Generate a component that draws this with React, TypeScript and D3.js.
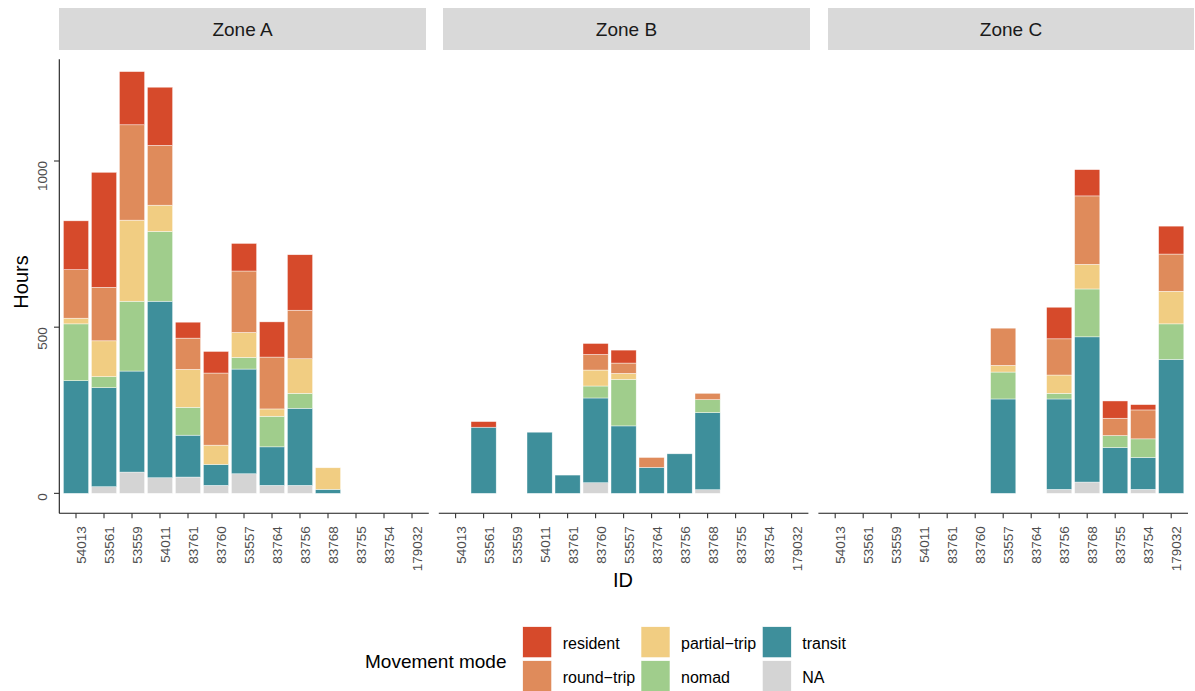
import React from "react";
import * as d3 from "d3";

const ids = ["54013", "53561", "53559", "54011", "83761", "83760", "53557", "83764", "83756", "83768", "83755", "83754", "179032"];
const zones = ["Zone A", "Zone B", "Zone C"];
// stack order, bottom to top
const modes = ["NA", "transit", "nomad", "partial-trip", "round-trip", "resident"];
const modeColors = ["#D4D4D4", "#3E8F9B", "#A0CD8C", "#F1CD82", "#DF8B5B", "#D64A2B"];

// Zone A
const aNA = [0, 20, 64, 47, 49, 24, 59, 24, 24, 0, 0, 0, 0];
const aTransit = [339, 298, 304, 531, 126, 63, 315, 116, 232, 12, 0, 0, 0];
const aNomad = [171, 33, 210, 210, 84, 0, 35, 92, 45, 0, 0, 0, 0];
const aPartial = [17, 108, 244, 79, 114, 58, 75, 22, 104, 65, 0, 0, 0];
const aRound = [146, 161, 287, 180, 94, 217, 185, 156, 146, 0, 0, 0, 0];
const aResident = [147, 346, 160, 175, 48, 65, 83, 106, 167, 0, 0, 0, 0];

// Zone B
const bNA = [0, 0, 0, 0, 0, 32, 0, 0, 0, 11, 0, 0, 0];
const bTransit = [0, 199, 0, 184, 55, 255, 203, 78, 119, 232, 0, 0, 0];
const bNomad = [0, 0, 0, 0, 0, 36, 140, 0, 0, 39, 0, 0, 0];
const bPartial = [0, 0, 0, 0, 0, 48, 18, 0, 0, 0, 0, 0, 0];
const bRound = [0, 0, 0, 0, 0, 47, 31, 30, 0, 19, 0, 0, 0];
const bResident = [0, 17, 0, 0, 0, 33, 39, 0, 0, 0, 0, 0, 0];

// Zone C
const cNA = [0, 0, 0, 0, 0, 0, 0, 0, 12, 34, 0, 12, 0];
const cTransit = [0, 0, 0, 0, 0, 0, 284, 0, 272, 437, 138, 96, 403];
const cNomad = [0, 0, 0, 0, 0, 0, 81, 0, 17, 144, 36, 56, 107];
const cPartial = [0, 0, 0, 0, 0, 0, 20, 0, 55, 74, 0, 0, 98];
const cRound = [0, 0, 0, 0, 0, 0, 112, 0, 109, 206, 52, 87, 112];
const cResident = [0, 0, 0, 0, 0, 0, 0, 0, 95, 79, 52, 16, 84];

const yTicks = [0, 500, 1000];

const zoneSeries = [
  [aNA, aTransit, aNomad, aPartial, aRound, aResident],
  [bNA, bTransit, bNomad, bPartial, bRound, bResident],
  [cNA, cTransit, cNomad, cPartial, cRound, cResident],
];

// legend layout: columns of labels
const legendCols = [
  ["resident", "round-trip"],
  ["partial-trip", "nomad"],
  ["transit", "NA"],
];

const FONT = "'Liberation Sans', Arial, Helvetica, sans-serif";

export default function App() {
  const W = 1195;
  const H = 691;
  const panelLefts = [59.2, 438.8, 818.4];
  const panelW = 369.6;
  const panelTop = 59.3;
  const panelBottom = 513.3;
  const stripBoxes = [
    [59, 426],
    [443, 810],
    [828, 1194],
  ];

  const y = d3.scaleLinear().domain([-60, 1306]).range([panelBottom, panelTop]);

  const colorOf = (m: string) => modeColors[modes.indexOf(m)];

  return (
    <svg width={W} height={H} style={{ position: "absolute", left: 0, top: 0, background: "#fff" }} fontFamily={FONT}>
      <rect x={0} y={0} width={W} height={H} fill="#fff" />
      {/* strips */}
      {zones.map((z, i) => (
        <g key={"s" + i}>
          <rect x={stripBoxes[i][0]} y={8} width={stripBoxes[i][1] - stripBoxes[i][0]} height={42} fill="#D9D9D9" />
          <text x={(stripBoxes[i][0] + stripBoxes[i][1]) / 2} y={29} textAnchor="middle" dominantBaseline="central" fontSize={19} fill="#1A1A1A">
            {z}
          </text>
        </g>
      ))}

      {/* panels */}
      {zones.map((z, zi) => {
        const x = d3.scalePoint<string>().domain(ids).range([panelLefts[zi], panelLefts[zi] + panelW]).padding(0.6);
        const step = x.step();
        const bw = step * 0.9;
        const rows = ids.map((id, k) => {
          const r: any = { id };
          modes.forEach((m, mi) => (r[m] = zoneSeries[zi][mi][k]));
          return r;
        });
        const stacked = d3.stack<any>().keys(modes)(rows);
        return (
          <g key={"p" + zi}>
            {stacked.map((layer) => (
              <g key={layer.key} fill={colorOf(layer.key)}>
                {layer.map((d, k) =>
                  d[1] - d[0] > 0 ? (
                    <rect
                      key={k}
                      x={(x(ids[k]) as number) - bw / 2}
                      y={y(d[1])}
                      width={bw}
                      height={y(d[0]) - y(d[1])}
                      stroke="#ffffff"
                      strokeOpacity={0.7}
                      strokeWidth={0.6}
                    />
                  ) : null
                )}
              </g>
            ))}
            {/* x axis */}
            <line x1={panelLefts[zi]} x2={panelLefts[zi] + panelW} y1={panelBottom} y2={panelBottom} stroke="#1a1a1a" strokeWidth={1.1} />
            {ids.map((id) => {
              const px = x(id) as number;
              return (
                <g key={id}>
                  <line x1={px} x2={px} y1={panelBottom} y2={panelBottom + 5} stroke="#333" strokeWidth={1.1} />
                  <text
                    transform={`translate(${px + 5.5},${panelBottom + 13}) rotate(-90)`}
                    textAnchor="end"
                    dominantBaseline="central"
                    fontSize={13.5}
                    fill="#4D4D4D"
                  >
                    {id}
                  </text>
                </g>
              );
            })}
          </g>
        );
      })}

      {/* y axis */}
      <line x1={59.3} x2={59.3} y1={panelTop} y2={panelBottom} stroke="#1a1a1a" strokeWidth={1.1} />
      {yTicks.map((t) => (
        <g key={t}>
          <line x1={54} x2={59.3} y1={y(t)} y2={y(t)} stroke="#333" strokeWidth={1.1} />
          <text transform={`translate(42.5,${y(t)}) rotate(-90)`} textAnchor="end" dominantBaseline="central" fontSize={13.5} fill="#4D4D4D">
            {t}
          </text>
        </g>
      ))}

      {/* axis titles */}
      <text transform={`translate(20.5,282) rotate(-90)`} textAnchor="middle" dominantBaseline="central" fontSize={20} fill="#000">
        Hours
      </text>
      <text x={623} y={580} textAnchor="middle" dominantBaseline="central" fontSize={20} fill="#000">
        ID
      </text>

      {/* legend */}
      <text x={365} y={661} dominantBaseline="central" fontSize={19} fill="#000">
        Movement mode
      </text>
      {legendCols.map((col, ci) => {
        const kx = [522.7, 641, 762.3][ci];
        return col.map((lab, ri) => {
          const ky = 626.7 + ri * 34;
          return (
            <g key={lab}>
              <rect x={kx} y={ky} width={29} height={31} fill={colorOf(lab)} stroke="#ffffff" strokeWidth={0.6} />
              <text x={kx + 40} y={ky + 16.5} dominantBaseline="central" fontSize={16} fill="#000">
                {lab.replace("-", "\u2212")}
              </text>
            </g>
          );
        });
      })}
    </svg>
  );
}
